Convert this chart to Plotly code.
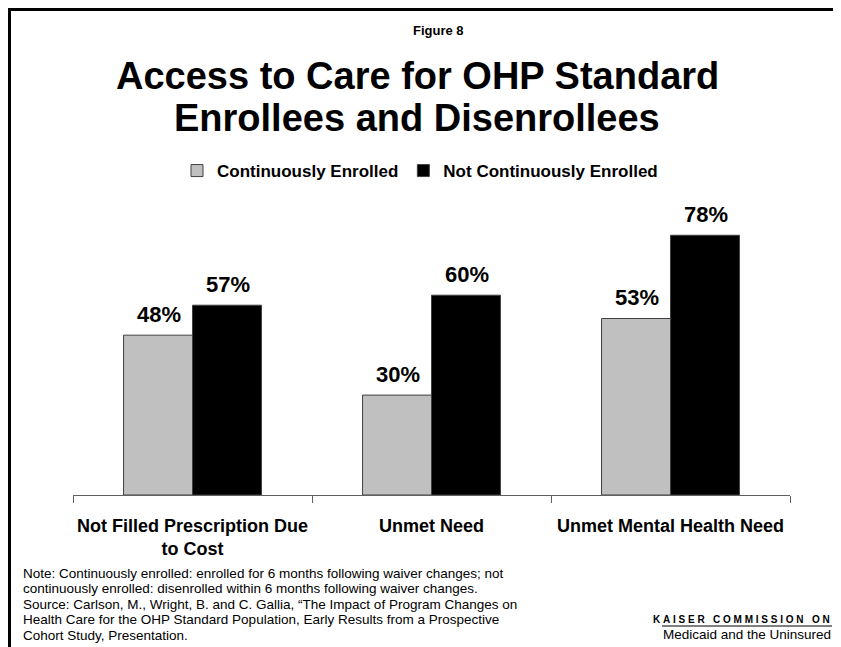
import plotly.graph_objects as go

# data
categories = ["Not Filled Prescription Due<br>to Cost", "Unmet Need", "Unmet Mental Health Need"]
continuous = [48, 30, 53]
not_continuous = [57, 60, 78]
series_names = ["Continuously Enrolled", "Not Continuously Enrolled"]
note_lines = [
    "Note: Continuously enrolled: enrolled for 6 months following waiver changes; not",
    "continuously enrolled: disenrolled within 6 months following waiver changes.",
    "Source: Carlson, M., Wright, B. and C. Gallia, \u201cThe Impact of Program Changes on",
    "Health Care for the OHP Standard Population, Early Results from a Prospective",
    "Cohort Study, Presentation.",
]

FONT = "Liberation Sans, Arial, sans-serif"
OFF = 8  # the page body adds an 8px margin
W, H = 841 - OFF, 647 - OFF
L, R, T, B = 73, 790, 162, 495  # plot area, page pixels


def px(x):
    return (x - L) / (R - L)


def py(y):
    return (B - y) / (B - T)


fig = go.Figure()
fig.add_trace(go.Bar(
    x=categories, y=continuous, name=series_names[0],
    marker={"color": "#C0C0C0", "line": {"color": "#404040", "width": 1}},
))
fig.add_trace(go.Bar(
    x=categories, y=not_continuous, name=series_names[1],
    marker={"color": "#000000", "line": {"color": "#404040", "width": 1}},
))

# value labels above each bar
half_bar = (R - L) / 3 * (1 - 0.423) / 4
for vals, shift in [(continuous, -half_bar), (not_continuous, half_bar)]:
    for cat, v in zip(categories, vals):
        fig.add_annotation(
            x=cat, y=v, text=f"<b>{v}%</b>", showarrow=False,
            xshift=shift + 1, yshift=21, yanchor="middle",
            font={"family": FONT, "size": 22, "color": "black"},
        )

# headings
fig.add_annotation(x=px(438), y=py(30), xref="paper", yref="paper", showarrow=False,
                   yanchor="middle", text="<b>Figure 8</b>",
                   font={"family": FONT, "size": 13, "color": "black"})
for txt, yy in [("Access to Care for OHP Standard", 76), ("Enrollees and Disenrollees", 118)]:
    fig.add_annotation(x=px(417), y=py(yy), xref="paper", yref="paper", showarrow=False,
                       yanchor="middle", text=f"<b>{txt}</b>",
                       font={"family": FONT, "size": 38, "color": "black"})

# footnote
for i, line in enumerate(note_lines):
    fig.add_annotation(x=px(21), y=py(573 + i * 15.5), xref="paper", yref="paper",
                       xanchor="left", yanchor="middle", showarrow=False, text=line,
                       font={"family": FONT, "size": 13.5, "color": "black"})

# logo text (kept inside the visible page width)
nb = "\u00a0"
kaiser = (nb * 3).join(nb.join(w) for w in ["KAISER", "COMMISSION", "ON"])
fig.add_annotation(x=px(832), y=py(619), xref="paper", yref="paper", xanchor="right",
                   yanchor="middle", showarrow=False, text=f"<b>{kaiser}</b>",
                   font={"family": FONT, "size": 10, "color": "black"})
fig.add_shape(type="line", xref="paper", yref="paper", x0=px(662), x1=px(832),
              y0=py(626), y1=py(626), line={"color": "black", "width": 1.2})
fig.add_annotation(x=px(833), y=py(634), xref="paper", yref="paper", xanchor="right",
                   yanchor="middle", showarrow=False, text="Medicaid and the Uninsured",
                   font={"family": FONT, "size": 13.5, "color": "black"})

# frame
fig.add_shape(type="line", xref="paper", yref="paper", x0=px(9.5), x1=px(9.5),
              y0=py(8), y1=py(660), line={"color": "black", "width": 3})
fig.add_shape(type="line", xref="paper", yref="paper", x0=px(8), x1=px(860),
              y0=py(9.5), y1=py(9.5), line={"color": "black", "width": 3})

fig.update_layout(
    width=W, height=H,
    margin={"l": L - OFF, "r": W - (R - OFF), "t": T - OFF, "b": H - (B - OFF),
            "pad": 0, "autoexpand": False},
    paper_bgcolor="white", plot_bgcolor="white",
    barmode="group", bargap=0.423, bargroupgap=0,
    font={"family": FONT, "color": "black"},
    showlegend=True,
    legend={
        "orientation": "h", "x": px(420), "xanchor": "center", "y": py(171),
        "yanchor": "middle", "font": {"family": FONT, "size": 17, "weight": "bold"},
        "bgcolor": "rgba(0,0,0,0)", "itemclick": False,
    },
)
fig.update_xaxes(
    showline=True, linecolor="#606060", linewidth=1, automargin=False, tickangle=0,
    ticks="outside", tickson="boundaries", ticklen=7, tickcolor="#606060",
    tickfont={"family": FONT, "size": 18, "weight": "bold"},
    ticklabelstandoff=14, showgrid=False,
)
fig.update_yaxes(range=[0, 100], visible=False, showgrid=False, automargin=False)

fig.write_html("out.html", default_width=f"{W}px", default_height=f"{H}px")
